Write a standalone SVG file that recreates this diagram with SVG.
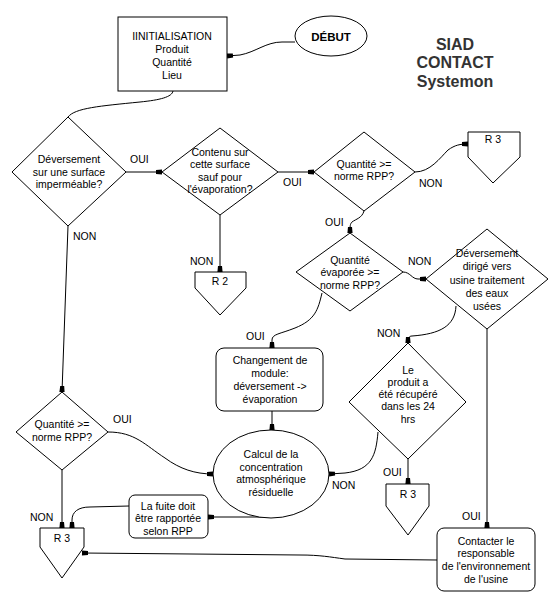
<svg xmlns="http://www.w3.org/2000/svg" width="550" height="599" viewBox="0 0 550 599">
<defs>
<marker id="ah" markerUnits="userSpaceOnUse" markerWidth="10" markerHeight="10" refX="6" refY="0" viewBox="-1 -5 10 10" orient="auto">
<polygon points="0,-2 6,-2.6 6,2.6 0,2" fill="#000"/>
</marker>
<style>
.s{fill:#fff;stroke:#000;stroke-width:1}
.t{font-family:"Liberation Sans",Arial,sans-serif;font-size:10.5px;fill:#000;text-anchor:middle}
.l{font-family:"Liberation Sans",Arial,sans-serif;font-size:10.5px;fill:#000}
.c{fill:none;stroke:#000;stroke-width:1}
.a{marker-end:url(#ah)}
.h{font-family:"Liberation Sans",Arial,sans-serif;font-weight:bold;font-size:16px;fill:#333;text-anchor:middle}
</style>
</defs>
<rect width="550" height="599" fill="#fff"/>
<g id="titre">
<text class="h" x="455" y="50">SIAD</text>
<text class="h" x="455" y="68">CONTACT</text>
<text class="h" x="455" y="87">Systemon</text>
</g>
<g id="connectors">
<path class="c a" d="M295,42 L282,42 C266,42 256,52 240,55 L227,56"/>
<path class="c" d="M173,91 C172,97 160,100 140,102 C100,106 75,108 68,117"/>
<path class="c a" d="M126,172 L162,172"/>
<path class="c a" d="M278,172 L314,172"/>
<path class="c a" d="M415,172 C430,172 440,158 448,150 C455,145 460,144 468,144"/>
<path class="c a" d="M364,211 C362,218 356,219 352,222 C350,224 350,226 350,233"/>
<path class="c a" d="M220,215 L220,272"/>
<path class="c a" d="M68,226 L62,392"/>
<path class="c a" d="M403,272 C410,272 412,279 418,279 L426,279"/>
<path class="c a" d="M322,293 C318,310 315,320 295,328 C280,334 272,334 272,340 L272,348"/>
<path class="c a" d="M456,306 C455,326 440,334 412,336 C409,336 408,338 408,343"/>
<path class="c a" d="M487,329 L487,528"/>
<path class="c a" d="M408,459 L408,484"/>
<path class="c a" d="M378,432 C376,455 372,470 345,473 L329,474"/>
<path class="c a" d="M272,411 L272,430"/>
<path class="c a" d="M108,432 C135,432 145,445 165,458 C180,469 195,474 213,474"/>
<path class="c a" d="M271,517 L208,517"/>
<path class="c a" d="M129,506 L90,507 C78,507 72,512 72,520 L72,528"/>
<path class="c a" d="M62,470 L62,528"/>
<path class="c a" d="M437,560 L345,559 C330,557 320,555 300,555 L82,553"/>
<text class="l" x="130" y="163">OUI</text>
<text class="l" x="283" y="186">OUI</text>
<text class="l" x="419" y="187">NON</text>
<text class="l" x="325" y="226">OUI</text>
<text class="l" x="73" y="240">NON</text>
<text class="l" x="190" y="265">NON</text>
<text class="l" x="408" y="265">NON</text>
<text class="l" x="377" y="337">NON</text>
<text class="l" x="246" y="340">OUI</text>
<text class="l" x="113" y="423">OUI</text>
<text class="l" x="383" y="476">OUI</text>
<text class="l" x="332" y="489">NON</text>
<text class="l" x="462" y="520">OUI</text>
<text class="l" x="30" y="521">NON</text>
</g>
<g id="debut">
<ellipse class="s" cx="331" cy="36" rx="36" ry="20"/>
<text x="331" y="41" font-family="Liberation Sans,Arial,sans-serif" font-weight="bold" font-size="11.5" text-anchor="middle">DÉBUT</text>
</g>
<g id="init">
<rect class="s" x="118" y="17" width="109" height="74"/>
<text class="t" x="172" y="40">IINITIALISATION</text>
<text class="t" x="172" y="53">Produit</text>
<text class="t" x="172" y="66">Quantité</text>
<text class="t" x="172" y="79">Lieu</text>
</g>
<g id="d1">
<polygon class="s" points="68,117 126,172 68,226 12,172"/>
<text class="t" x="69" y="163">Déversement</text>
<text class="t" x="69" y="176">sur une surface</text>
<text class="t" x="69" y="188">imperméable?</text>
</g>
<g id="d2">
<polygon class="s" points="220,128 278,172 220,215 162,172"/>
<text class="t" x="220" y="156">Contenu sur</text>
<text class="t" x="220" y="168">cette surface</text>
<text class="t" x="220" y="181">sauf pour</text>
<text class="t" x="220" y="193">l'évaporation?</text>
</g>
<g id="d3">
<polygon class="s" points="364,132 415,172 364,211 314,172"/>
<text class="t" x="364" y="168">Quantité &gt;=</text>
<text class="t" x="364" y="180">norme RPP?</text>
</g>
<g id="r3a">
<polygon class="s" points="468,132 520,132 520,157 493,183 468,157"/>
<text class="t" x="493" y="143">R 3</text>
</g>
<g id="r2">
<polygon class="s" points="195,272 246,272 246,288 220,315 195,288"/>
<text class="t" x="220" y="285">R 2</text>
</g>
<g id="d4">
<polygon class="s" points="350,233 403,272 350,311 296,272"/>
<text class="t" x="350" y="264">Quantité</text>
<text class="t" x="350" y="276">évaporée &gt;=</text>
<text class="t" x="350" y="289">norme RPP?</text>
</g>
<g id="d5">
<polygon class="s" points="487,229 548,279 487,329 426,279"/>
<text class="t" x="487" y="257">Déversement</text>
<text class="t" x="487" y="270">dirigé vers</text>
<text class="t" x="487" y="284">usine traitement</text>
<text class="t" x="487" y="297">des eaux</text>
<text class="t" x="487" y="310">usées</text>
</g>
<g id="d6">
<polygon class="s" points="408,343 466,402 408,459 349,402"/>
<text class="t" x="408" y="374">Le</text>
<text class="t" x="408" y="386">produit a</text>
<text class="t" x="408" y="398">été récupéré</text>
<text class="t" x="408" y="410">dans les 24</text>
<text class="t" x="408" y="423">hrs</text>
</g>
<g id="changement">
<rect class="s" x="216" y="348" width="107" height="63" rx="8"/>
<text class="t" x="270" y="364">Changement de</text>
<text class="t" x="270" y="377">module:</text>
<text class="t" x="270" y="390">déversement -&gt;</text>
<text class="t" x="270" y="403">évaporation</text>
</g>
<g id="calcul">
<ellipse class="s" cx="271" cy="474" rx="58" ry="44"/>
<text class="t" x="271" y="458">Calcul de la</text>
<text class="t" x="271" y="471">concentration</text>
<text class="t" x="271" y="483">atmosphérique</text>
<text class="t" x="271" y="496">résiduelle</text>
</g>
<g id="d7">
<polygon class="s" points="62,392 108,432 62,470 16,432"/>
<text class="t" x="62" y="428">Quantité &gt;=</text>
<text class="t" x="62" y="441">norme RPP?</text>
</g>
<g id="fuite">
<rect class="s" x="129" y="495" width="79" height="43" rx="6"/>
<text class="t" x="168" y="510">La fuite doit</text>
<text class="t" x="168" y="522">être rapportée</text>
<text class="t" x="168" y="535">selon RPP</text>
</g>
<g id="r3b">
<polygon class="s" points="386,484 429,484 429,506 408,535 386,506"/>
<text class="t" x="408" y="498">R 3</text>
</g>
<g id="r3c">
<polygon class="s" points="40,528 84,528 84,547 62,578 40,547"/>
<text class="t" x="62" y="542">R 3</text>
</g>
<g id="contacter">
<rect class="s" x="437" y="528" width="98" height="63" rx="7"/>
<text class="t" x="486" y="545">Contacter le</text>
<text class="t" x="486" y="557">responsable</text>
<text class="t" x="486" y="570">de l'environnement</text>
<text class="t" x="486" y="583">de l'usine</text>
</g>
</svg>
